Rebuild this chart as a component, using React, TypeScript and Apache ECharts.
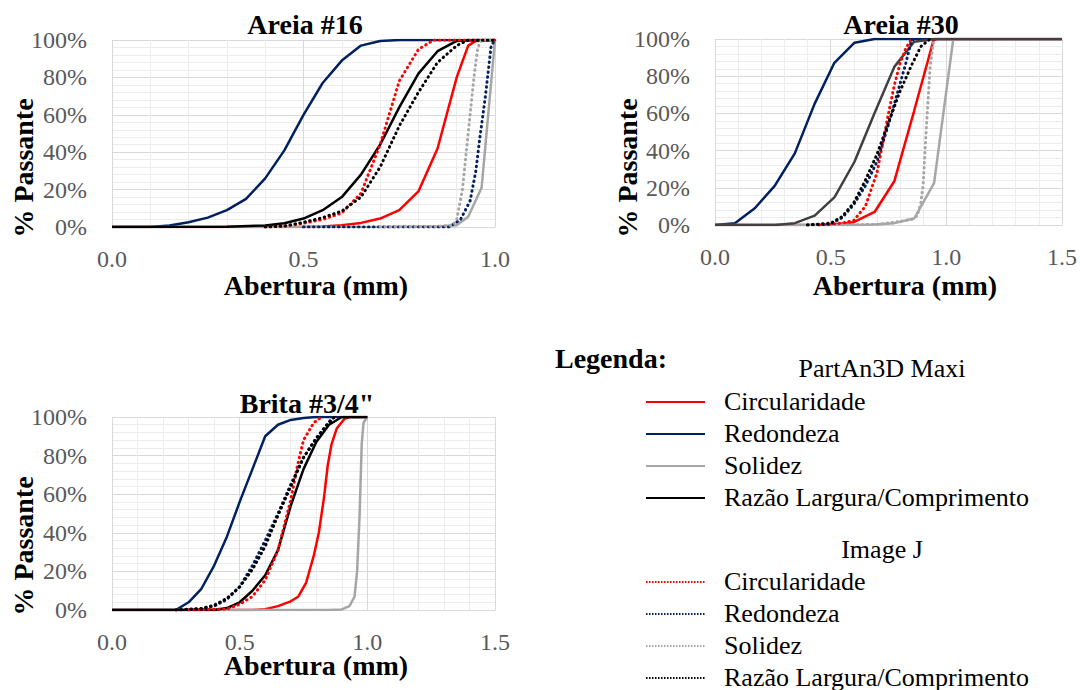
import React, { useEffect, useRef } from "react";
import * as echarts from "echarts";

// ---------- DATA ----------
const chartTitles = ["Areia #16", "Areia #30", "Brita #3/4\""];
const xAxisMax = [1.0, 1.5, 1.5];
const yTicks = [0, 20, 40, 60, 80, 100];
const seriesNames = ["Circularidade", "Redondeza", "Solidez", "Razão Largura/Comprimento"];
const groupNames = ["PartAn3D Maxi", "Image J"];

// Areia #16 — PartAn3D Maxi (solid)
const a16CircP = [[0, 0], [0.5, 0], [0.55, 0.3], [0.6, 1], [0.65, 2.2], [0.7, 4.5], [0.75, 9], [0.8, 19], [0.85, 42], [0.9, 80], [0.93, 97], [0.95, 99.5], [1, 100]];
const a16RedP = [[0, 0], [0.1, 0], [0.15, 0.8], [0.2, 2.5], [0.25, 5], [0.3, 9], [0.35, 15], [0.4, 26], [0.45, 41], [0.5, 60], [0.55, 77], [0.6, 89], [0.65, 97], [0.7, 99.5], [0.75, 100], [1, 100]];
const a16SolP = [[0, 0], [0.7, 0], [0.85, 0.3], [0.9, 1], [0.93, 5.5], [0.965, 21], [1, 100]];
const a16RazP = [[0, 0], [0.3, 0.2], [0.4, 0.8], [0.45, 2], [0.5, 4.5], [0.55, 9], [0.6, 16], [0.65, 28], [0.7, 44], [0.75, 64], [0.8, 82], [0.85, 94], [0.9, 99.5], [0.95, 100], [1, 100]];
// Areia #16 — Image J (dotted)
const a16CircJ = [[0.4, 0], [0.45, 0.5], [0.5, 2], [0.55, 4], [0.6, 7.5], [0.65, 18], [0.7, 44], [0.75, 78], [0.8, 95], [0.84, 100], [1, 100]];
const a16RedJ = [[0.5, 0], [0.88, 0], [0.91, 4], [0.935, 14], [0.95, 30], [0.96, 47], [0.975, 70], [0.985, 88], [0.99, 97], [1, 100]];
const a16SolJ = [[0.7, 0], [0.85, 0.3], [0.89, 1], [0.9, 4], [0.915, 20], [0.93, 50], [0.945, 80], [0.955, 96], [0.965, 100], [1, 100]];
const a16RazJ = [[0.4, 0], [0.45, 0.5], [0.5, 2.5], [0.55, 5], [0.6, 8.5], [0.65, 16], [0.7, 32], [0.75, 54], [0.8, 72], [0.85, 88], [0.9, 97], [0.93, 100], [1, 100]];

// Areia #30 — PartAn3D Maxi (solid)
const a30CircP = [[0, 0], [0.5, 0], [0.6, 1.5], [0.69, 7], [0.775, 23.5], [0.86, 61], [0.945, 99.5], [0.96, 100], [1.5, 100]];
const a30RedP = [[0, 0], [0.086, 1], [0.172, 9], [0.258, 21], [0.345, 38.5], [0.43, 65], [0.515, 87], [0.603, 98], [0.69, 100], [1.5, 100]];
const a30SolP = [[0, 0], [0.6, 0], [0.69, 0.3], [0.775, 1], [0.861, 3.5], [0.947, 22.5], [1.03, 100], [1.5, 100]];
const a30RazP = [[0, 0], [0.26, 0], [0.345, 1], [0.431, 5], [0.517, 15], [0.603, 34], [0.689, 60], [0.775, 85], [0.861, 98.5], [0.95, 100], [1.5, 100]];
// Areia #30 — Image J (dotted)
const a30CircJ = [[0.45, 0], [0.55, 1], [0.6, 2.5], [0.65, 10], [0.7, 28], [0.725, 44], [0.75, 60], [0.775, 75], [0.8, 87], [0.825, 95], [0.85, 100]];
const a30RedJ = [[0.4, 0], [0.5, 0.5], [0.55, 4], [0.6, 11], [0.65, 21], [0.7, 34], [0.75, 54], [0.8, 76], [0.825, 87], [0.85, 99.5], [0.87, 100]];
const a30SolJ = [[0.55, 0], [0.7, 0.3], [0.77, 1.4], [0.85, 3], [0.875, 5], [0.89, 12], [0.9, 22], [0.915, 55], [0.93, 85], [0.945, 99], [0.95, 100]];
const a30RazJ = [[0.4, 0], [0.5, 1], [0.55, 4.5], [0.6, 12], [0.65, 24], [0.7, 38], [0.75, 55], [0.8, 72], [0.85, 86], [0.89, 96], [0.93, 100]];

// Brita #3/4" — PartAn3D Maxi (solid)
const b34CircP = [[0, 0], [0.55, 0], [0.6, 0.4], [0.65, 2], [0.7, 4.5], [0.73, 7], [0.76, 14], [0.79, 28], [0.81, 40], [0.83, 58], [0.845, 75], [0.86, 86], [0.88, 94], [0.91, 99], [0.93, 100], [1.0, 100]];
const b34RedP = [[0, 0], [0.25, 0], [0.3, 4], [0.35, 11], [0.4, 23], [0.45, 38], [0.5, 56], [0.55, 73], [0.6, 90], [0.65, 96], [0.7, 98.5], [0.75, 99.5], [0.8, 100], [1.0, 100]];
const b34SolP = [[0, 0], [0.85, 0], [0.9, 0.3], [0.93, 2], [0.95, 7], [0.96, 20], [0.97, 50], [0.978, 86], [0.985, 97], [1.0, 100]];
const b34RazP = [[0, 0], [0.4, 0], [0.45, 1], [0.5, 4], [0.55, 10], [0.6, 18], [0.65, 31], [0.7, 54], [0.75, 73], [0.8, 87], [0.85, 96], [0.9, 100], [1.0, 100]];
// Brita #3/4" — Image J (dotted)
const b34CircJ = [[0.3, 0], [0.45, 0.5], [0.5, 3], [0.55, 7], [0.6, 15.5], [0.65, 31], [0.7, 57], [0.725, 74], [0.75, 88], [0.79, 97], [0.82, 100]];
const b34RedJ = [[0.25, 0], [0.35, 0.5], [0.4, 2], [0.45, 5.5], [0.5, 12], [0.55, 23], [0.6, 36], [0.65, 50], [0.7, 65], [0.75, 79], [0.8, 89], [0.85, 97.5], [0.87, 100]];
const b34RazJ = [[0.25, 0], [0.35, 0.8], [0.4, 2.5], [0.45, 6], [0.5, 12], [0.55, 21], [0.6, 33], [0.65, 49], [0.7, 64], [0.75, 79], [0.8, 89], [0.85, 97], [0.87, 100]];

const chartSolid = [
  [a16CircP, a16RedP, a16SolP, a16RazP],
  [a30CircP, a30RedP, a30SolP, a30RazP],
  [b34CircP, b34RedP, b34SolP, b34RazP],
];
const chartDotted = [
  [a16CircJ, a16RedJ, a16SolJ, a16RazJ],
  [a30CircJ, a30RedJ, a30SolJ, a30RazJ],
  [b34CircJ, b34RedJ, null, b34RazJ],
];

// ---------- STYLE ----------
const FONT = '"Liberation Serif", "Times New Roman", serif';
const colors = ["#ff0000", "#002060", "#a6a6a6", "#000000"];
const razaoSolidColor = ["#000000", "#404040", "#000000"];
const grids = [
  { left: 112, top: 40, width: 383, height: 187 },
  { left: 715, top: 39, width: 348, height: 186 },
  { left: 112, top: 417, width: 383, height: 193 },
];
const titlePos = [[305, 24], [901, 24], [307, 403]];
const yNamePos = [[23, 168], [627, 168], [23, 546]];
const xNamePos = [[316, 285], [905, 285], [316, 665]];

export default function App() {
  const ref = useRef<HTMLDivElement>(null);
  useEffect(() => {
    if (!ref.current) return;
    const chart = echarts.init(ref.current, null, { renderer: "svg" });

    const xAxes = grids.map((_, i) => ({
      type: "value",
      gridIndex: i,
      min: 0,
      max: xAxisMax[i],
      interval: 0.5,
      axisLine: { show: true, lineStyle: { color: "#d9d9d9", width: 1 } },
      axisTick: { show: false },
      minorTick: { show: false, splitNumber: 5 },
      minorSplitLine: { show: true, lineStyle: { color: "#ececec", width: 1 } },
      splitLine: { show: true, lineStyle: { color: "#d9d9d9", width: 1 } },
      axisLabel: {
        color: "#595959",
        fontFamily: FONT,
        fontSize: 24,
        margin: 20,
        formatter: (v: number) => v.toFixed(1),
      },
    }));
    const yAxes = grids.map((_, i) => ({
      type: "value",
      gridIndex: i,
      min: yTicks[0],
      max: yTicks[yTicks.length - 1],
      interval: yTicks[1] - yTicks[0],
      axisLine: { show: false },
      axisTick: { show: false },
      minorTick: { show: false, splitNumber: 5 },
      minorSplitLine: { show: true, lineStyle: { color: "#ececec", width: 1 } },
      splitLine: { show: true, lineStyle: { color: "#d9d9d9", width: 1 } },
      axisLabel: {
        color: "#595959",
        fontFamily: FONT,
        fontSize: 24,
        margin: 25,
        formatter: (v: number) => v + "%",
      },
    }));

    const series: any[] = [];
    for (let c = 0; c < 3; c++) {
      chartSolid[c].forEach((d, k) => {
        series.push({
          type: "line",
          name: groupNames[0] + " " + seriesNames[k],
          xAxisIndex: c,
          yAxisIndex: c,
          data: d,
          showSymbol: false,
          silent: true,
          lineStyle: { color: k === 3 ? razaoSolidColor[c] : colors[k], width: 2.5 },
        });
      });
      chartDotted[c].forEach((d, k) => {
        if (!d) return;
        series.push({
          type: "line",
          name: groupNames[1] + " " + seriesNames[k],
          xAxisIndex: c,
          yAxisIndex: c,
          data: d,
          showSymbol: false,
          silent: true,
          lineStyle: { color: colors[k], width: 3, type: [0.5, 4.5], cap: "round" },
        });
      });
    }

    const bold = `bold 28px ${FONT}`;
    const graphics: any[] = [];
    for (let c = 0; c < 3; c++) {
      graphics.push({
        type: "text", x: titlePos[c][0], y: titlePos[c][1],
        style: { text: chartTitles[c], font: bold, fill: "#000", textAlign: "center", textVerticalAlign: "middle" },
      });
      graphics.push({
        type: "text", x: xNamePos[c][0], y: xNamePos[c][1],
        style: { text: "Abertura (mm)", font: bold, fill: "#000", textAlign: "center", textVerticalAlign: "middle" },
      });
      graphics.push({
        type: "text", x: yNamePos[c][0], y: yNamePos[c][1], rotation: Math.PI / 2,
        style: { text: "% Passante", font: bold, fill: "#000", textAlign: "center", textVerticalAlign: "middle" },
      });
    }
    // Legend
    const legFont = `26px ${FONT}`;
    graphics.push({
      type: "text", x: 555, y: 358,
      style: { text: "Legenda:", font: bold, fill: "#000", textAlign: "left", textVerticalAlign: "middle" },
    });
    const groupY = [368, 549];
    const itemY = [[401, 433, 465, 497], [581, 613, 645, 677]];
    for (let g = 0; g < 2; g++) {
      graphics.push({
        type: "text", x: 882, y: groupY[g],
        style: { text: groupNames[g], font: legFont, fill: "#000", textAlign: "center", textVerticalAlign: "middle" },
      });
      seriesNames.forEach((n, k) => {
        const y = itemY[g][k];
        graphics.push({
          type: "line",
          shape: { x1: 646, y1: y + 1, x2: 705, y2: y + 1 },
          style: g === 0
            ? { stroke: colors[k], lineWidth: 2 }
            : { stroke: colors[k], lineWidth: 2, lineDash: [1.5, 1.5] },
        });
        graphics.push({
          type: "text", x: 724, y,
          style: { text: n, font: legFont, fill: "#000", textAlign: "left", textVerticalAlign: "middle" },
        });
      });
    }

    chart.setOption({
      animation: false,
      backgroundColor: "#ffffff",
      grid: grids.map((g) => ({ ...g, containLabel: false })),
      xAxis: xAxes,
      yAxis: yAxes,
      series,
      graphic: graphics,
    });
    return () => chart.dispose();
  }, []);
  return (
    <div
      ref={ref}
      style={{ position: "absolute", left: 0, top: 0, width: 1080, height: 690, background: "#fff" }}
    />
  );
}
